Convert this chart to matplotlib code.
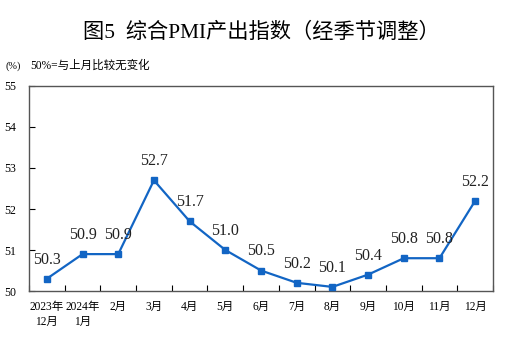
import matplotlib.pyplot as plt
import numpy as np

months = ["2023年\n12月", "2024年\n1月", "2月", "3月", "4月", "5月", "6月",
          "7月", "8月", "9月", "10月", "11月", "12月"]
pmi = [50.3, 50.9, 50.9, 52.7, 51.7, 51.0, 50.5, 50.2, 50.1, 50.4, 50.8, 50.8, 52.2]
y_ticks = [50, 51, 52, 53, 54, 55]

plt.rcParams['font.family'] = ['Liberation Serif', 'Noto Sans CJK SC']
blue = '#1265c4'

fig = plt.figure(figsize=(5.10, 3.38), dpi=100)
ax = fig.add_axes([0.0569, 0.139, 0.9098, 0.6066])

x = np.arange(len(pmi))
ax.plot(x, pmi, color=blue, lw=1.6, marker='s', ms=4.5, zorder=3)
for xi, v in zip(x, pmi):
    ax.annotate(f"{v:.1f}", (xi, v), xytext=(0, 8), textcoords='offset points',
                ha='center', va='bottom', fontsize=11.5, color='#222222')

ax.set_xlim(-0.5, len(pmi) - 0.5)
ax.set_ylim(50, 55)
ax.set_yticks(y_ticks)
ax.set_yticklabels([str(t) for t in y_ticks], fontsize=8.5)
ax.tick_params(axis='y', direction='in', length=4, pad=9, width=0.8)

# ticks between categories, labels at centres
ax.set_xticks(np.arange(len(pmi) + 1) - 0.5)
ax.set_xticklabels([])
ax.tick_params(axis='x', direction='in', length=4, width=0.8)
ax.set_xticks(x, minor=True)
ax.set_xticklabels(months, minor=True, fontsize=8.3, linespacing=1.3)
ax.tick_params(axis='x', which='minor', length=0, pad=7)

for s in ax.spines.values():
    s.set_color('#555555')
    s.set_linewidth(1.0)

fig.text(0.513, 0.902, "图5  综合PMI产出指数（经季节调整）", ha='center', va='center',
         fontsize=15.3, family=['Liberation Serif', 'Noto Sans CJK SC'])
fig.text(0.010, 0.805, "(%)", fontsize=7.5, va='center')
fig.text(0.060, 0.805, "50%=与上月比较无变化", fontsize=8.3, va='center')

fig.savefig("out.png", dpi=100)
